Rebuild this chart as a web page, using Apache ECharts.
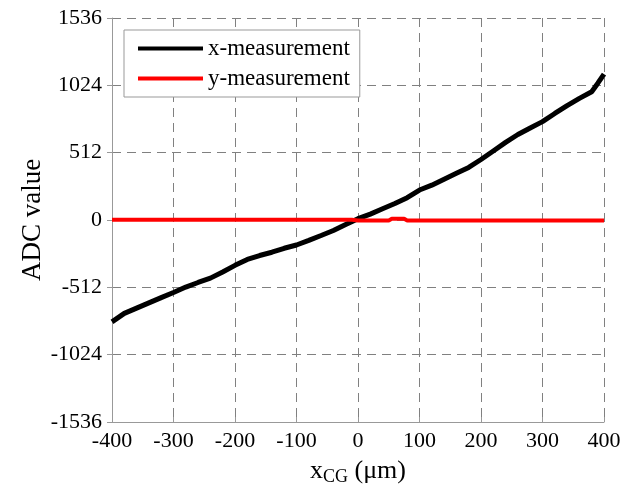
<!DOCTYPE html>
<html>
<head>
<meta charset="utf-8">
<script src="https://cdn.jsdelivr.net/npm/echarts@6.0.0/dist/echarts.min.js"></script>
<style>
  html,body{margin:0;padding:0;background:#fff;}
  #chart{width:637px;height:493px;}
</style>
</head>
<body>
<div id="chart"></div>
<script>
var xMeasPos = [-400,-380,-360,-340,-320,-300,-280,-260,-240,-220,-200,-180,-160,-140,-120,-100,-80,-60,-40,-20,0,20,40,60,80,100,120,140,160,180,200,220,240,260,280,300,320,340,360,380,390,400];
var xMeasAdc = [-775,-710,-670,-630,-590,-551,-510,-475,-442,-395,-345,-300,-270,-245,-215,-190,-155,-118,-80,-35,10,45,85,125,170,228,265,310,355,400,460,525,590,650,700,748,810,870,925,975,1040,1110];
// y-measurement stays flat around zero
var yMeasPos = [-400,-300,-200,-100,-10,0,10,50,55,75,80,100,200,300,400];
var yMeasAdc = [2,2,2,2,2,-3,-3,-3,10,10,-3,-3,-3,-3,-3];
var xTicks = [-400,-300,-200,-100,0,100,200,300,400];
var yTicks = [-1536,-1024,-512,0,512,1024,1536];

function pairs(xs, ys){
  return xs.map(function(v, i){ return [v, ys[i]]; });
}
function plain(v){ return String(v); }

var font = '"Liberation Serif","Times New Roman",serif';
var gridLine = { show: true, lineStyle: { color: '#808080', type: [9, 6], width: 1 } };
var myChart = echarts.init(document.getElementById('chart'));
myChart.setOption({
  animation: false,
  grid: { left: 112, right: 33, top: 18, bottom: 71 },
  legend: {
    orient: 'vertical',
    left: 124,
    top: 30,
    padding: [7, 10, 7, 14],
    itemGap: 7,
    itemWidth: 65,
    itemHeight: 4,
    icon: 'rect',
    backgroundColor: '#fff',
    borderColor: '#999',
    borderWidth: 1,
    borderRadius: 0,
    textStyle: { fontFamily: font, fontSize: 23, color: '#000', lineHeight: 23 },
    data: ['x-measurement', 'y-measurement']
  },
  xAxis: {
    type: 'value',
    min: xTicks[0],
    max: xTicks[xTicks.length - 1],
    interval: 100,
    name: '{a|x}{s|CG}{a| (μm)}',
    nameLocation: 'middle',
    nameGap: 34,
    nameMoveOverlap: false,
    nameTextStyle: {
      rich: {
        a: { fontFamily: font, fontSize: 26, color: '#000' },
        s: { fontFamily: font, fontSize: 18, color: '#000', padding: [12, 0, 0, 0] }
      }
    },
    axisLine: { onZero: false, lineStyle: { color: '#999', width: 1 } },
    axisTick: { inside: true, length: 5, lineStyle: { color: '#999' } },
    axisLabel: { fontFamily: font, fontSize: 22, color: '#000', margin: 8, formatter: plain },
    splitLine: gridLine
  },
  yAxis: {
    type: 'value',
    min: yTicks[0],
    max: yTicks[yTicks.length - 1],
    interval: 512,
    name: 'ADC value',
    nameLocation: 'middle',
    nameGap: 66,
    nameMoveOverlap: false,
    nameTextStyle: { fontFamily: font, fontSize: 27, color: '#000' },
    axisLine: { show: true, onZero: false, lineStyle: { color: '#999', width: 1 } },
    axisTick: { show: true, length: 5, lineStyle: { color: '#999' } },
    axisLabel: { fontFamily: font, fontSize: 22, color: '#000', margin: 10, formatter: plain },
    splitLine: gridLine
  },
  series: [
    {
      name: 'x-measurement',
      type: 'line',
      symbol: 'none',
      color: '#000',
      lineStyle: { color: '#000', width: 5 },
      data: pairs(xMeasPos, xMeasAdc)
    },
    {
      name: 'y-measurement',
      type: 'line',
      symbol: 'none',
      color: '#f00',
      lineStyle: { color: '#f00', width: 4 },
      data: pairs(yMeasPos, yMeasAdc)
    }
  ]
});
</script>
</body>
</html>
